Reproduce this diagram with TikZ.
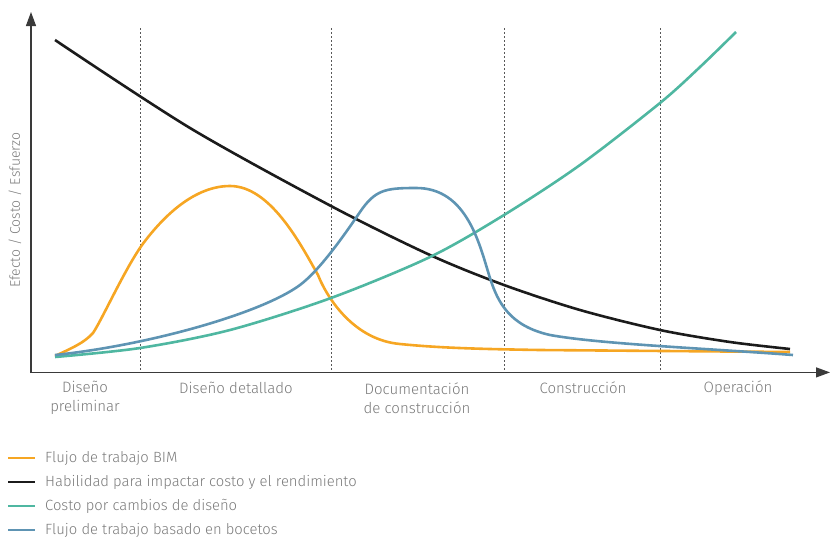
\documentclass[tikz,border=0pt]{standalone}
\usepackage{fontspec}
\setmainfont{Fira Sans}[UprightFont=* Light]
\usetikzlibrary{arrows.meta}
\definecolor{cbim}{HTML}{F6A623}
\definecolor{cblk}{HTML}{1B1B1B}
\definecolor{cteal}{HTML}{4FB7A1}
\definecolor{cblue}{HTML}{5E94B3}
\definecolor{ctxt}{HTML}{7A7A7A}
\definecolor{caxis}{HTML}{3A3A3A}
\begin{document}
\begin{tikzpicture}[x=1pt,y=-1pt,
  curve/.style={line width=2.6pt,line join=round},
  phase/.style={dash pattern=on 2pt off 2pt,line width=0.9pt,color=caxis!85},
  lbl/.style={font=\fontsize{15}{19.5}\selectfont,text=ctxt,align=center,inner sep=0pt},
  ylbl/.style={font=\fontsize{14}{16}\selectfont,text=ctxt,inner sep=0pt},
  leg/.style={font=\fontsize{14.8}{18}\selectfont,text=ctxt,anchor=west,inner sep=0pt},
  legline/.style={line width=2.4pt}]
\useasboundingbox (0,0) rectangle (830,539);
% axes
\draw[caxis,line width=1.2pt,-{Triangle[length=14pt,width=10pt]}] (31,373) -- (31,12);
\draw[caxis,line width=1.2pt,-{Triangle[length=14pt,width=10pt]}] (31,372.4) -- (830,372.4);
% phase lines
\foreach \x in {140,331,504,660} \draw[phase] (\x,28) -- (\x,372);
% curves
\draw[cbim,curve] (55,356) .. controls (72,348) and (84,343) .. (93,333)
  .. controls (103,318) and (127,264) .. (145,241)
  .. controls (165,215) and (195,186) .. (230,186)
  .. controls (270,186) and (300,243) .. (318,275)
  .. controls (328,300) and (355,340) .. (400,344)
  .. controls (440,348) and (480,349) .. (540,350) -- (790,352);
\draw[cblk,curve,smooth,tension=0.5] plot coordinates {(55,40) (190,128) (331,206) (430,255) (504,285) (580,310) (660,330) (730,342) (790,349)};
\draw[cteal,curve,smooth,tension=0.5] plot coordinates {(55,357) (140,348) (230,330) (331,298) (430,257) (504,215) (580,165) (660,103) (700,67) (736,32)};
\draw[cblue,curve] (55,355) .. controls (150,345) and (262,313) .. (300,285)
  .. controls (320,270) and (345,234) .. (360,212)
  .. controls (375,190) and (385,188) .. (415,188)
  .. controls (468,187) and (480,247) .. (490,278)
  .. controls (498,303) and (510,326) .. (550,335)
  .. controls (600,344) and (700,348) .. (793,355);
% y label
\node[ylbl,rotate=90] (ylab) at (15,210) {Efecto / Costo / Esfuerzo};
% phase labels
\node[lbl] (p1) at (85,398) {Diseño\\preliminar};
\node[lbl] (p2) at (236,388) {Diseño detallado};
\node[lbl] (p3) at (417,398) {Documentación\\de construcción};
\node[lbl] (p4) at (583,388) {Construcción};
\node[lbl] (p5) at (738,388) {Operación};
% legend
\draw[cbim,legline] (8,458) -- (35,458);
\node[leg] (l1) at (45,458) {Flujo de trabajo BIM};
\draw[cblk,legline] (8,482) -- (35,482);
\node[leg] (l2) at (45,482) {Habilidad para impactar costo y el rendimiento};
\draw[cteal,legline] (8,506) -- (35,506);
\node[leg] (l3) at (45,506) {Costo por cambios de diseño};
\draw[cblue,legline] (8,530) -- (35,530);
\node[leg] (l4) at (45,530) {Flujo de trabajo basado en bocetos};
\end{tikzpicture}
\end{document}
